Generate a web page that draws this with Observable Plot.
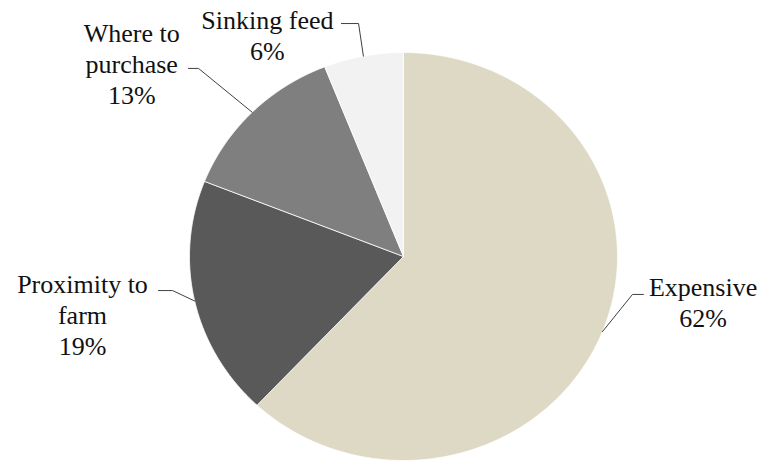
<!DOCTYPE html>
<html>
<head>
<meta charset="utf-8">
<script src="https://cdn.jsdelivr.net/npm/d3@7"></script>
<script src="https://cdn.jsdelivr.net/npm/@observablehq/plot@0.6"></script>
<style>
  html, body { margin: 0; padding: 0; background: #fff; font-family: serif; }
  #chart { width: 765px; height: 461px; }
</style>
</head>
<body>
<div id="chart"></div>
<script>
// ---- data ----
const categories = ["Expensive", "Proximity to farm", "Where to purchase", "Sinking feed"];
const shares = [62, 19, 13, 6];
const labelNames = ["Expensive", "Proximity to\nfarm", "Where to\npurchase", "Sinking feed"];
const colors = ["#ddd9c4", "#595959", "#7f7f7f", "#f2f2f2"];

// ---- layout (unit-circle coordinates, y up) ----
const labelPos = [[1.40, -0.22], [-1.50, -0.283], [-1.27, 0.948], [-0.636, 1.087]];
const leaderStart = [[1.121, -0.186], [-1.145, -0.167], [-1.005, 0.922], [-0.290, 1.142]];
const leaderElbow = [[1.070, -0.186], [-1.079, -0.167], [-0.958, 0.922], [-0.210, 1.142]];

// ---- build pie geometry through d3.pie ----
const arcs = d3.pie().sort(null).value(d => d)(shares);
const slicePts = [];
arcs.forEach((a, i) => {
  const name = categories[i];
  slicePts.push({name, x: 0, y: 0});
  const n = Math.max(2, Math.ceil((a.endAngle - a.startAngle) / (Math.PI / 360)));
  for (let k = 0; k <= n; k++) {
    const t = a.startAngle + (a.endAngle - a.startAngle) * k / n;
    slicePts.push({name, x: Math.sin(t), y: Math.cos(t)});
  }
  slicePts.push({name, x: 0, y: 0});
});

const labels = categories.map((c, i) => ({
  name: c,
  text: `${labelNames[i]}\n${shares[i]}%`,
  x: labelPos[i][0],
  y: labelPos[i][1]
}));

const leaders = [];
arcs.forEach((a, i) => {
  const mid = (a.startAngle + a.endAngle) / 2;
  leaders.push({id: i, x: leaderStart[i][0], y: leaderStart[i][1]});
  leaders.push({id: i, x: leaderElbow[i][0], y: leaderElbow[i][1]});
  leaders.push({id: i, x: Math.sin(mid), y: Math.cos(mid)});
});

const chart = Plot.plot({
  width: 765,
  height: 461,
  margin: 0,
  style: {background: "#fff", fontFamily: "serif"},
  x: {domain: [-1, 1], range: [189, 617], axis: null},
  y: {domain: [-1, 1], range: [460, 52], axis: null},
  color: {domain: categories, range: colors},
  marks: [
    Plot.line(slicePts, {x: "x", y: "y", z: "name", fill: "name", stroke: "#ffffff", strokeWidth: 0.8, curve: "linear"}),
    Plot.line(leaders, {x: "x", y: "y", z: "id", stroke: "#404040", strokeWidth: 1}),
    Plot.text(labels, {x: "x", y: "y", text: "text", fontSize: 26, fontFamily: "serif", lineHeight: 1.18, lineAnchor: "middle", textAnchor: "middle", fill: "#111"})
  ]
});
chart.setAttribute("font-family", "serif");
document.getElementById("chart").appendChild(chart);
</script>
</body>
</html>
